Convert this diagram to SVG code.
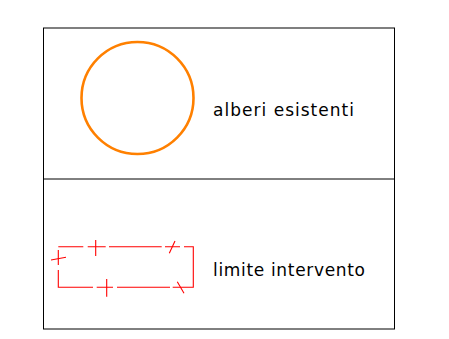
<svg xmlns="http://www.w3.org/2000/svg" width="449" height="339" viewBox="0 0 449 339">
<style>
.frame{fill:none;stroke:#000;stroke-width:1}
.tree{fill:none;stroke:#ff8000;stroke-width:2.6}
.lim{fill:none;stroke:#ff0000;stroke-width:1.1}
.lbl{font-family:"DejaVu Sans",sans-serif;font-size:17px;fill:#000}
</style>
<rect width="449" height="339" fill="#fff"/>
<g id="frame">
<rect class="frame" x="43.5" y="28" width="351" height="301"/>
<line class="frame" x1="43.5" y1="179" x2="394.5" y2="179"/>
</g>
<g id="alberi-esistenti">
<circle class="tree" cx="137.5" cy="98" r="56"/>
<text class="lbl" x="213" y="116" textLength="141" lengthAdjust="spacing">alberi esistenti</text>
</g>
<g id="limite-intervento">
<path class="lim" d="M58.3,246.7H83.3M87.7,246.7H105.7M109,246.7H161.7M165,246.7H180M184,246.7H193.3V287.3H172.7M170,287.3H117M113,287.3H96.7M93,287.3H58.3V270M58.3,265V250"/>
<path class="lim" d="M95.7,240V256M175,241L169.3,253.3M51,260L66,257.3M106.7,279V296.7M177.3,281.7L184,293.3"/>
<text class="lbl" x="213" y="276" textLength="152" lengthAdjust="spacing">limite intervento</text>
</g>
</svg>
